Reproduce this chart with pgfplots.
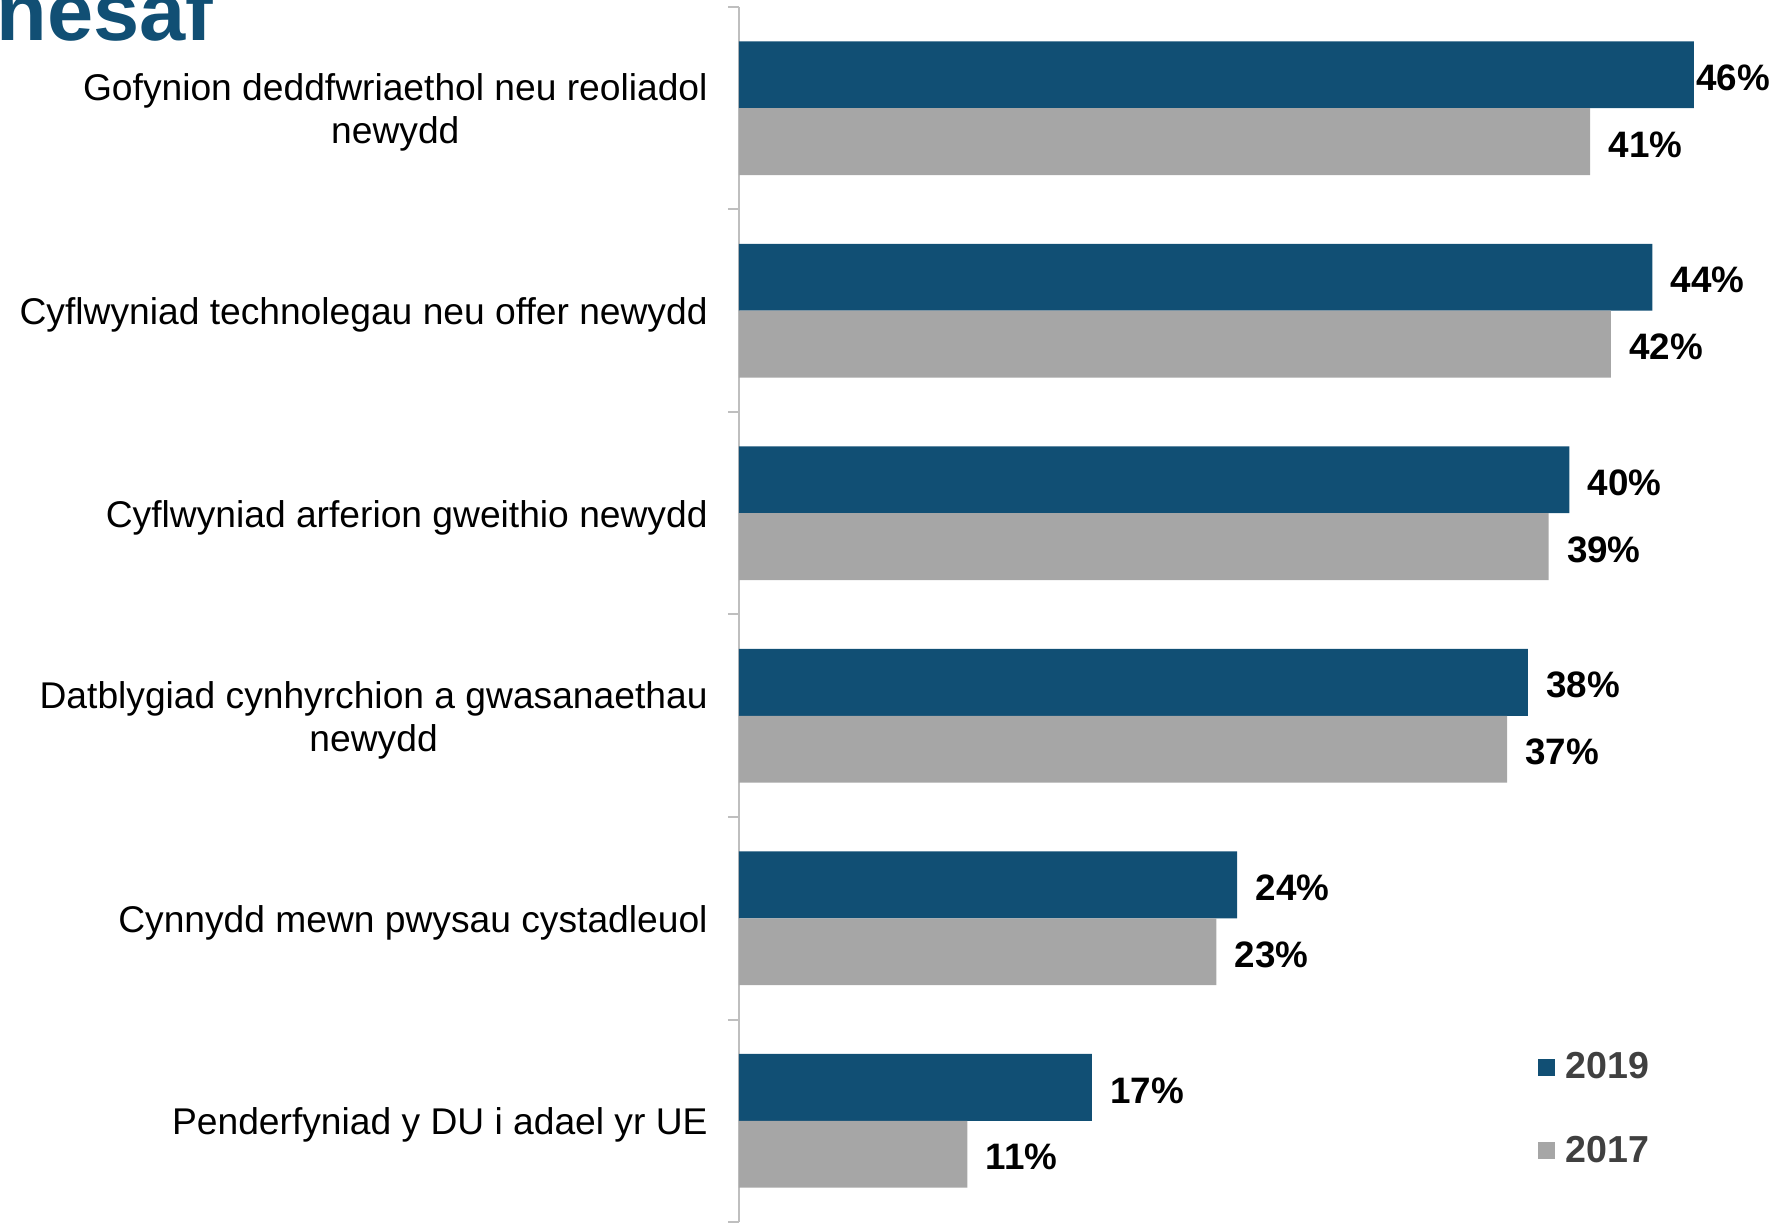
\documentclass[border=0pt]{standalone}
\usepackage{pgfplots}
\pgfplotsset{compat=1.18}
\usepackage{pgfplotstable}
\usepackage{fontspec}
\setmainfont{Liberation Sans}
\definecolor{blue19}{HTML}{114F74}
\definecolor{gray17}{HTML}{A6A6A6}
\definecolor{axgray}{HTML}{BFBFBF}
\definecolor{legtxt}{HTML}{404040}

% y = category position, x = value, lx = where its label starts (before the common 9pt gap)
\pgfplotstableread{
y x lx
5 46 45.23
4 44 44
3 40 40
2 38 38
1 24 24
0 17 17
}\datanew
\pgfplotstableread{
y x lx
5 41 41
4 42 42
3 39 39
2 37 37
1 23 23
0 11 11
}\dataold

\begin{document}
\begin{tikzpicture}
\useasboundingbox (0pt,0pt) rectangle (888.5pt,611pt);
\clip (0pt,0pt) rectangle (888.5pt,611pt);
\node[anchor=base west, inner sep=0pt, font=\fontsize{41.5}{50}\selectfont\bfseries, text=blue19] at (-2pt,590.5pt) {nesaf};
\begin{axis}[
  at={(369.5pt,0pt)}, anchor=south west,
  scale only axis, width=519pt, height=607.5pt,
  xmin=0, xmax=50, ymin=-0.5, ymax=5.5,
  xbar, bar width=0.33,
  axis x line=none, axis y line*=left,
  y axis line style={draw=axgray, line width=1pt, -},
  ytick={0,...,5},
  yticklabels={{Penderfyniad y DU i adael yr UE},{Cynnydd mewn pwysau cystadleuol},{Datblygiad cynhyrchion a gwasanaethau\\newydd},{Cyflwyniad arferion gweithio newydd},{Cyflwyniad technolegau neu offer newydd},{Gofynion deddfwriaethol neu reoliadol\\newydd}},
  major tick length=0pt,
  minor ytick={-0.5,0.5,...,5.5},
  minor tick length=5.5pt,
  tick align=outside,
  minor tick style={draw=axgray, line width=1pt},
  yticklabel style={align=center, font=\fontsize{18.6}{21.5}\selectfont, inner sep=0pt, xshift=-15.5pt, yshift=-2.2pt, text=black},
  legend style={at={(rel axis cs:0.7697,0.143)}, anchor=north west, draw=none, fill=none, inner sep=0pt,
    font=\fontsize{18.8}{20}\selectfont\bfseries, text=legtxt, row sep=23pt, column sep=3pt},
  legend cell align=left,
  lbl/.style={draw=none, fill=none, forget plot, point meta=explicit,
    nodes near coords={\pgfmathprintnumber[assume math mode=true]{\pgfplotspointmeta}\%},
    nodes near coords style={anchor=west, inner sep=0pt, xshift=9pt, yshift=-1.5pt, font=\fontsize{18.4}{20}\selectfont\bfseries, text=black}},
]
\addplot[fill=blue19, draw=none, bar shift=0.165,
  legend image code/.code={\fill[blue19] (0pt,-4.25pt) rectangle (8.5pt,4.25pt);}]
  table[x=x,y=y]{\datanew};
\addlegendentry{2019}
\addplot[fill=gray17, draw=none, bar shift=-0.165,
  legend image code/.code={\fill[gray17] (0pt,-4.25pt) rectangle (8.5pt,4.25pt);}]
  table[x=x,y=y]{\dataold};
\addlegendentry{2017}
\addplot[lbl, bar shift=0.165] table[x=lx,y=y,meta=x]{\datanew};
\addplot[lbl, bar shift=-0.165] table[x=lx,y=y,meta=x]{\dataold};
\end{axis}
\end{tikzpicture}
\end{document}
